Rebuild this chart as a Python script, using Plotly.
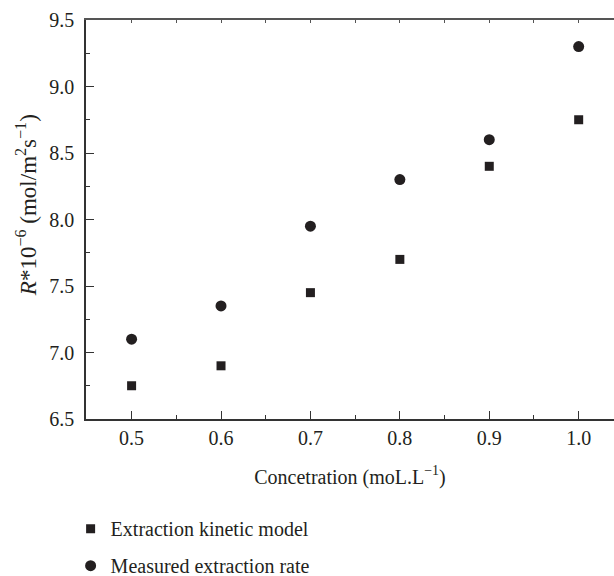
import plotly.graph_objects as go

conc = [0.5, 0.6, 0.7, 0.8, 0.9, 1.0]
model = [6.75, 6.9, 7.45, 7.7, 8.4, 8.75]
measured = [7.1, 7.35, 7.95, 8.3, 8.6, 9.3]
x_ticks = [0.5, 0.6, 0.7, 0.8, 0.9, 1.0]
x_ticktext = ["0.5", "0.6", "0.7", "0.8", "0.9", "1.0"]
y_ticks = [6.5, 7.0, 7.5, 8.0, 8.5, 9.0, 9.5]
y_ticktext = ["6.5", "7.0", "7.5", "8.0", "8.5", "9.0", "9.5"]

FONT = "Liberation Serif"
INK = "#231f20"

fig = go.Figure()
fig.add_trace(go.Scatter(x=conc, y=model, mode="markers", name="Extraction kinetic model",
                         legendgroup="a",
                         marker=dict(symbol="square", size=9, color=INK)))
fig.add_trace(go.Scatter(x=conc, y=measured, mode="markers", name="Measured extraction rate",
                         legendgroup="b",
                         marker=dict(symbol="circle", size=11, color=INK)))
# top axis line with small ticks
fig.add_trace(go.Scatter(x=[conc[0]], y=[measured[0]], xaxis="x2", mode="markers",
                         marker=dict(opacity=0), showlegend=False, hoverinfo="skip"))

fig.update_layout(
    width=614, height=576,
    margin=dict(l=86, r=0, t=20, b=157, autoexpand=False),
    paper_bgcolor="white", plot_bgcolor="white",
    font=dict(family=FONT, size=20, color=INK),
    xaxis=dict(range=[0.449, 1.0395], tickvals=x_ticks, ticktext=x_ticktext,
               ticks="inside", ticklen=8, tickwidth=1.2, tickcolor="#333",
               tickfont=dict(size=20),
               showline=True, linecolor="#333", linewidth=1.5, showgrid=False, zeroline=False,
               minor=dict(ticks="inside", ticklen=4, dtick=0.05, tick0=0.45, tickcolor="#333", showgrid=False),
               ticklabelstandoff=0,
               title=dict(text="Concetration (moL.L<sup>−1</sup>)", font=dict(size=20), standoff=22)),
    xaxis2=dict(overlaying="x", side="top", range=[0.449, 1.0395],
                tickvals=[0.45 + 0.05 * i for i in range(12)], showticklabels=False,
                ticks="inside", ticklen=3, tickcolor="#555",
                showline=True, linecolor="#555", linewidth=1.5, showgrid=False, zeroline=False),
    yaxis=dict(range=[6.5, 9.5], tickvals=y_ticks, ticktext=y_ticktext,
               ticks="inside", ticklen=8, tickwidth=1.2, tickcolor="#333",
               tickfont=dict(size=20),
               showline=True, linecolor="#333", linewidth=1.5, showgrid=False, zeroline=False,
               minor=dict(ticks="inside", ticklen=4, dtick=0.25, tick0=6.5, tickcolor="#333", showgrid=False),
               ticklabelstandoff=6),
    legend=dict(xref="container", yref="container", x=0.115, y=0.116, xanchor="left", yanchor="top",
                font=dict(size=20), tracegroupgap=8, itemwidth=30, bgcolor="rgba(0,0,0,0)"),
    showlegend=True,
    annotations=[dict(text="<i>R</i>*10<sup>−6</sup> (mol/m<sup>2</sup>s<sup>−1</sup>)",
                      xref="paper", yref="paper", x=0, y=0.536, xshift=-60,
                      xanchor="center", yanchor="middle", textangle=-90,
                      showarrow=False, font=dict(size=23))],
)

fig.write_html("out.html")
